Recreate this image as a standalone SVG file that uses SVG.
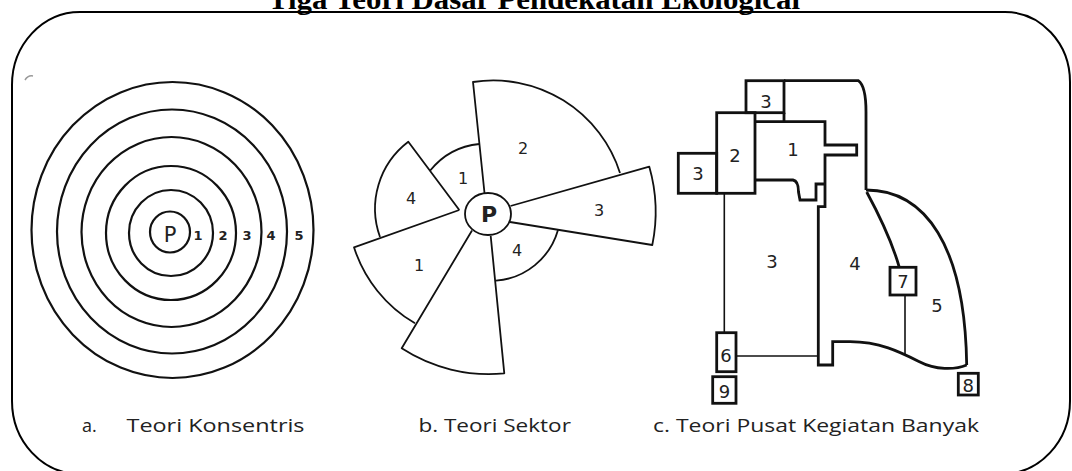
<svg xmlns="http://www.w3.org/2000/svg" width="1072" height="471" viewBox="0 0 1072 471">
<style>
.frame{fill:none;stroke:#000;stroke-width:2}
.ring{fill:none;stroke:#111;stroke-width:2.2}
.sec{fill:none;stroke:#111;stroke-width:1.8;stroke-linejoin:round}
.thick{fill:none;stroke:#111;stroke-width:2.8;stroke-linejoin:miter}
.thin{fill:none;stroke:#111;stroke-width:1.6}
.lbl{font-family:"DejaVu Sans","Liberation Sans",sans-serif;fill:#222;text-anchor:middle}
.cap{font-family:"Open Sans","Noto Sans",sans-serif;font-size:18px;fill:#222}
.title{font-family:"Liberation Serif","Times New Roman",serif;font-weight:bold;font-size:30px;fill:#000}
</style>
<rect width="1072" height="471" fill="#fff"/>
<text class="title" x="268" y="9" textLength="532" lengthAdjust="spacingAndGlyphs">Tiga Teori Dasar Pendekatan Ekological</text>
<path class="frame" d="M80,12 H1005 A65 70 0 0 1 1070,82 V401 A68 73 0 0 1 1002,474 H80 A68 73 0 0 1 12,401 V85 A68 73 0 0 1 80,12 Z"/>
<path d="M25,80 Q28,75 33,76" fill="none" stroke="#999" stroke-width="1.5"/>

<g id="konsentris">
<ellipse class="ring" cx="170" cy="232" rx="20" ry="20.5"/>
<ellipse class="ring" cx="171" cy="233" rx="42" ry="43"/>
<ellipse class="ring" cx="171" cy="233" rx="65" ry="67"/>
<ellipse class="ring" cx="171.5" cy="232" rx="90" ry="95"/>
<ellipse class="ring" cx="172" cy="231.5" rx="115" ry="122"/>
<ellipse class="ring" cx="172.5" cy="230" rx="141" ry="148"/>
<text class="lbl" x="170" y="241.5" font-size="21">P</text>
<text class="lbl" x="198" y="240" font-size="13" font-weight="bold" fill="#444">1</text>
<text class="lbl" x="223" y="240" font-size="13" font-weight="bold" fill="#444">2</text>
<text class="lbl" x="247" y="240" font-size="13" font-weight="bold" fill="#444">3</text>
<text class="lbl" x="271" y="240" font-size="13" font-weight="bold" fill="#444">4</text>
<text class="lbl" x="299" y="240" font-size="13" font-weight="bold" fill="#444">5</text>
</g>

<g id="sektor">
<ellipse class="sec" cx="488" cy="214" rx="23" ry="21"/>
<path class="sec" d="M484.5,193 L473,82 A133 133 0 0 1 620,173"/>
<path class="sec" d="M510.5,206 L649.3,166.7 A165 165 0 0 1 652.3,245 L510,222"/>
<path class="sec" d="M558,230 A70 70 0 0 1 496,280.7"/>
<path class="sec" d="M490.7,236 L504.3,373.3 A160 160 0 0 1 401.7,348.3 L472,230.5"/>
<path class="sec" d="M459.3,210 L354,247.3 A136 136 0 0 0 415,323.3"/>
<path class="sec" d="M459.3,210 L408.3,141.7 A84 84 0 0 0 380,237"/>
<path class="sec" d="M430,170.8 A72 72 0 0 1 479.4,144"/>
<text class="lbl" x="489" y="222" font-size="22" font-weight="bold" fill="#111">P</text>
<text class="lbl" x="523" y="154" font-size="16">2</text>
<text class="lbl" x="463" y="184" font-size="16">1</text>
<text class="lbl" x="411" y="204" font-size="16">4</text>
<text class="lbl" x="599" y="216" font-size="16">3</text>
<text class="lbl" x="517" y="256" font-size="16">4</text>
<text class="lbl" x="419" y="271" font-size="16">1</text>
</g>

<g id="pusat-banyak">
<rect class="thick" x="746" y="80.7" width="38" height="32"/>
<path class="thick" d="M784,112.7 V121.7"/>
<path class="thick" d="M784,80.7 H858.3 Q866,86 866,112 V190"/>
<rect class="thick" x="716.7" y="112.7" width="38.3" height="80.6"/>
<rect class="thick" x="678.3" y="153.3" width="38.4" height="40"/>
<path class="thick" d="M755,121.7 H825 V145 H856.7 V155 H825 V206.7 H818.3 V365 H832.7 V341.7 H850 C880,341.7 900,352 920,362 C935,370 955,370 966.7,365"/>
<path class="thick" d="M755,180 H793 Q798.5,181 798.5,192 L800,200 H816 V184 H824"/>
<path class="thick" d="M866,190 C925,190 965,245 966.7,365"/>
<path class="thick" d="M866.7,192 Q890,235 899.3,267.3"/>
<rect class="thick" x="890" y="267.3" width="26" height="27.7"/>
<path class="thin" d="M905,295 V356"/>
<path class="thin" d="M724.3,193.3 V332.7"/>
<rect class="thick" x="716.7" y="332.7" width="19.3" height="39"/>
<path class="thin" d="M736,356 H818.3"/>
<rect class="thick" x="712.7" y="376.7" width="23.3" height="26.6" stroke-width="3.5"/>
<rect class="thick" x="958.3" y="373.3" width="20" height="21.7" stroke-width="3.2"/>
<text class="lbl" x="766" y="108" font-size="18">3</text>
<text class="lbl" x="735" y="161.5" font-size="18">2</text>
<text class="lbl" x="793" y="156" font-size="18">1</text>
<text class="lbl" x="698" y="180" font-size="18">3</text>
<text class="lbl" x="772" y="268" font-size="18">3</text>
<text class="lbl" x="855" y="270" font-size="18">4</text>
<text class="lbl" x="903" y="288" font-size="18">7</text>
<text class="lbl" x="937" y="312" font-size="18">5</text>
<text class="lbl" x="726" y="361.5" font-size="18">6</text>
<text class="lbl" x="724.5" y="397.5" font-size="18">9</text>
<text class="lbl" x="968.3" y="391.5" font-size="18">8</text>
</g>

<g id="captions">
<text class="cap" x="82" y="432">a.</text>
<text class="cap" x="126.5" y="432" textLength="178" lengthAdjust="spacingAndGlyphs">Teori Konsentris</text>
<text class="cap" x="418.4" y="432" textLength="152.5" lengthAdjust="spacingAndGlyphs">b. Teori Sektor</text>
<text class="cap" x="653" y="432" textLength="326" lengthAdjust="spacingAndGlyphs">c. Teori Pusat Kegiatan Banyak</text>
</g>
</svg>
